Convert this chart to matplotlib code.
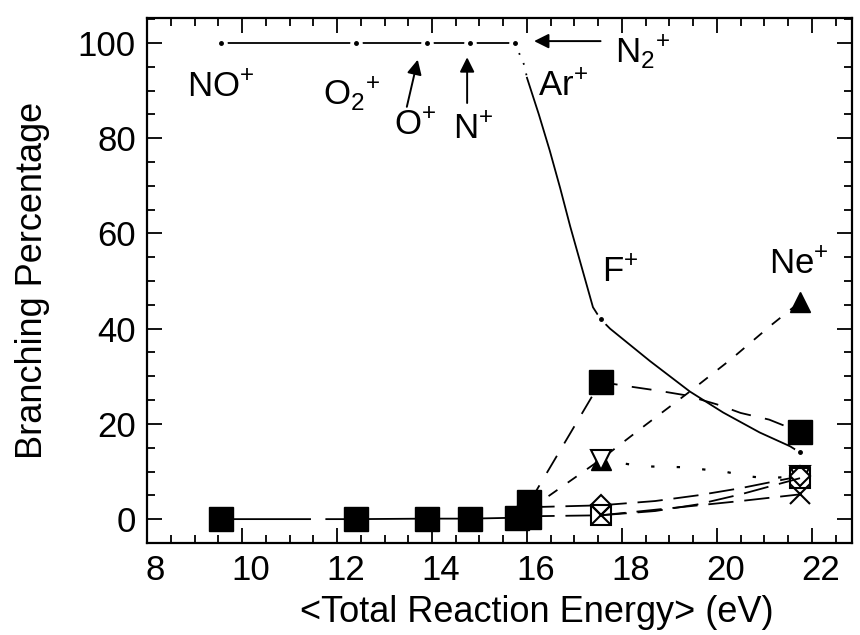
import numpy as np
import matplotlib
matplotlib.use('Agg')
import matplotlib.pyplot as plt
from matplotlib.transforms import ScaledTranslation

plt.rcParams['font.family'] = ['Liberation Sans', 'DejaVu Sans']
plt.rcParams['mathtext.fontset'] = 'custom'
plt.rcParams['mathtext.rm'] = 'Liberation Sans'
plt.rcParams['mathtext.it'] = 'Liberation Sans:italic'
plt.rcParams['mathtext.bf'] = 'Liberation Sans:bold'

# reaction energies of the ions (eV): NO+, O2+, O+, N+, N2+, Ar+, F+, Ne+
energy = [9.55, 12.4, 13.9, 14.8, 15.75, 16.05, 17.55, 21.75]

# parent channel at 100 % for the low energy ions
top_x = energy[:5]
top_y = [100, 100, 100, 100, 100]
# dotted start of the falling curve
drop_x = [15.75, 15.85, 15.95, 16.0]
drop_y = [100, 97.5, 95.2, 92.7]
# falling curve
fall_x = [16.0, 16.25, 16.48, 16.7, 16.91, 17.15, 17.39, 17.55, 17.75, 18.59, 19.43, 20.13, 20.9, 21.54, 21.75]
fall_y = [92.7, 85.0, 77.4, 69.5, 61.5, 53.0, 44.5, 42.0, 40.0, 33.2, 26.8, 22.4, 18.2, 15.3, 14.0]
fall_dots_x = [17.55, 21.75]
fall_dots_y = [42.0, 14.0]

# filled squares along zero
sq0_x = [9.55, 12.4, 13.9, 14.8, 15.8, 16.05]
sq0_y = [0.0, 0.0, 0.1, 0.1, 0.3, 0.5]

# filled squares, long dashes
sq1_x = [16.05, 17.55, 18.2, 18.75, 19.35, 20.0, 20.5, 21.1, 21.5, 21.75]
sq1_y = [3.5, 28.8, 27.8, 27.0, 26.0, 24.1, 22.3, 20.9, 19.3, 18.4]
sq1_mark = [0, 1, 9]

# filled up triangles (Ne+ channel)
tri_x = [16.05, 17.55, 18.5, 19.43, 20.3, 21.15, 21.75]
tri_y = [2.0, 12.5, 19.8, 26.8, 33.6, 40.8, 45.6]
tri_mark = [1, 6]

# open down triangles, dotted
dtri_x = [17.55, 18.4, 19.3, 20.2, 20.65, 21.05, 21.75]
dtri_y = [12.5, 11.1, 10.9, 9.9, 9.0, 8.6, 9.0]
dtri_mark = [0, 6]

# open diamonds
dia_x = [16.05, 17.55, 18.7, 19.6, 20.5, 21.75]
dia_y = [2.5, 2.9, 3.8, 5.0, 6.5, 9.0]
dia_mark = [1, 5]

# open squares
osq_x = [16.05, 17.55, 18.7, 19.6, 20.5, 21.75]
osq_y = [0.6, 0.8, 1.7, 3.1, 5.2, 8.6]
osq_mark = [1, 5]

# crosses
cross_x = [17.55, 20.5, 21.75]
cross_y = [0.8, 3.8, 5.2]
cross_mark = [0, 2]

fig = plt.figure(figsize=(8.6, 6.35), dpi=100)
ax = fig.add_axes([0.171, 0.145, 0.82, 0.827])

lw = 1.3
# parent line with gaps and dots at the points
ax.plot(top_x, top_y, color='k', lw=lw, zorder=2)
ax.plot(drop_x, drop_y, color='k', lw=lw, ls=(0, (1, 5)), zorder=2)
ax.plot(fall_x, fall_y, color='k', lw=lw, zorder=2)
gap_x = top_x + fall_dots_x
gap_y = top_y + fall_dots_y
ax.plot(gap_x, gap_y, ls='none', marker='o', ms=8, mfc='white', mec='white', zorder=3)
ax.plot(gap_x, gap_y, ls='none', marker='o', ms=2.5, mfc='k', mec='k', zorder=4)

# fragment channels
ax.plot(sq0_x, sq0_y, color='k', lw=lw, ls=(0, (50, 8)), marker='s', ms=17,
        mfc='k', mec='k', zorder=5)
ax.plot(sq1_x, sq1_y, color='k', lw=lw, ls=(0, (11, 8)), marker='s', ms=17,
        mfc='k', mec='k', markevery=sq1_mark, zorder=5)
ax.plot(tri_x, tri_y, color='k', lw=lw, ls=(0, (6, 7)), marker='^', ms=15,
        mfc='k', mec='k', markevery=tri_mark, zorder=5)
ax.plot(dtri_x, dtri_y, color='k', lw=1.6, ls=(0, (1.5, 10)), marker='v', ms=14,
        mfc='white', mec='k', mew=1.5, markevery=dtri_mark, zorder=6)
ax.plot(dia_x, dia_y, color='k', lw=lw, ls=(0, (14, 6)), marker='D', ms=10,
        mfc='white', mec='k', mew=1.5, markevery=dia_mark, zorder=6)
ax.plot(osq_x, osq_y, color='k', lw=lw, ls=(0, (14, 6)), marker='s', ms=14,
        mfc='none', mec='k', mew=1.5, markevery=osq_mark, zorder=7)
ax.plot(cross_x, cross_y, color='k', lw=lw, ls=(0, (14, 6)), marker='x', ms=14,
        mec='k', mew=1.5, markevery=cross_mark, zorder=7)

# ion labels
fs = 25
ax.text(8.84, 90.6, 'NO$^{+}$', fontsize=fs, va='center')
ax.text(11.7, 89.5, 'O$_{2}$$^{+}$', fontsize=fs, va='center')
ax.text(13.2, 82.6, 'O$^{+}$', fontsize=fs, va='center')
ax.text(14.45, 81.8, 'N$^{+}$', fontsize=fs, va='center')
ax.text(16.23, 90.8, 'Ar$^{+}$', fontsize=fs, va='center')
ax.text(17.85, 98.3, 'N$_{2}$$^{+}$', fontsize=fs, va='center')
ax.text(17.58, 51.8, 'F$^{+}$', fontsize=fs, va='center')
ax.text(21.1, 53.5, 'Ne$^{+}$', fontsize=fs, va='center')

arrow = dict(arrowstyle='-|>', lw=1.4, color='k', mutation_scale=22, shrinkA=0, shrinkB=0)
ax.annotate('', xy=(13.7, 96.5), xytext=(13.47, 86.6), arrowprops=arrow)
ax.annotate('', xy=(14.74, 97.0), xytext=(14.74, 87.4), arrowprops=arrow)
ax.annotate('', xy=(16.15, 100.4), xytext=(17.55, 100.4), arrowprops=arrow)

ax.set_xlim(8, 22.85)
ax.set_ylim(-5, 105.3)
ax.set_xticks(np.arange(8, 23, 2))
ax.set_xticks(np.arange(8, 23, 0.5), minor=True)
ax.set_yticks(np.arange(0, 101, 20))
ax.set_yticks(np.arange(-5, 106, 5), minor=True)
ax.tick_params(which='both', direction='in', top=True, right=True, width=1.3,
               labelsize=fs, pad=8)
ax.tick_params(which='major', length=11)
ax.tick_params(which='minor', length=6)
for s in ax.spines.values():
    s.set_linewidth(1.6)

# the scanned x tick labels sit a little right of their ticks
shift = ScaledTranslation(6 / 72, 0, fig.dpi_scale_trans)
for lab in ax.get_xticklabels():
    lab.set_transform(lab.get_transform() + shift)

ax.set_xlabel('<Total Reaction Energy> (eV)', fontsize=26)
ax.xaxis.set_label_coords(0.553, -0.10)
ax.set_ylabel('Branching Percentage', fontsize=26)
ax.yaxis.set_label_coords(-0.137, 0.5)

fig.savefig('out.png', dpi=100)
